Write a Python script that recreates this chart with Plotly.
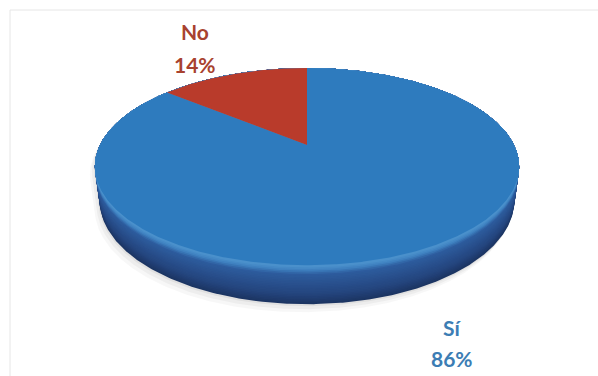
import numpy as np
import plotly.graph_objects as go

# ---- data ----
categories = ["Sí", "No"]
values = [86, 14]
slice_colors = ["#2E7BBE", "#B93B2B"]
label_colors = ["#3C7DB4", "#A8422F"]

# ---- 3D pie projection (style) ----
W, H_PX = 598, 376
CX, APEX_Y = 307, 145
KX, KY = 207, 202
ALPHA = np.radians(27.7)
SA, CA = np.sin(ALPHA), np.cos(ALPHA)
DIST = 4.05
THICK = 0.19


def proj(phi_deg, z):
    p = np.radians(np.asarray(phi_deg, dtype=float))
    X = np.sin(p)
    Y = np.cos(p)
    yup = Y * SA + z * CA
    d = Y * CA - z * SA
    s = DIST / (DIST + d)
    return CX + KX * X * s, APEX_Y - KY * yup * s


def hull(xs, ys):
    pts = sorted(set(zip(np.round(xs, 3), np.round(ys, 3))))

    def cross(o, a, b):
        return (a[0] - o[0]) * (b[1] - o[1]) - (a[1] - o[1]) * (b[0] - o[0])

    lower, upper = [], []
    for p in pts:
        while len(lower) >= 2 and cross(lower[-2], lower[-1], p) <= 0:
            lower.pop()
        lower.append(p)
    for p in reversed(pts):
        while len(upper) >= 2 and cross(upper[-2], upper[-1], p) <= 0:
            upper.pop()
        upper.append(p)
    h = lower[:-1] + upper[:-1]
    h.append(h[0])
    return [p[0] for p in h], [p[1] for p in h]


def lerp_color(stops, t):
    ts = [s[0] for s in stops]
    for i in range(len(stops) - 1):
        t0, c0 = stops[i]
        t1, c1 = stops[i + 1]
        if t0 >= t >= t1:
            f = (t0 - t) / (t0 - t1) if t0 != t1 else 0
            a = [int(c0[k:k + 2], 16) for k in (1, 3, 5)]
            b = [int(c1[k:k + 2], 16) for k in (1, 3, 5)]
            c = [round(a[j] + (b[j] - a[j]) * f) for j in range(3)]
            return "rgb(%d,%d,%d)" % tuple(c)
    return stops[-1][1]


phis = np.linspace(0, 360, 721)
fig = go.Figure()


def poly(xs, ys, color):
    fig.add_trace(go.Scatter(x=list(xs), y=list(ys), mode="lines", fill="toself",
                             fillcolor=color, line=dict(width=0, color=color),
                             hoverinfo="skip", showlegend=False))


# soft shadow
tx, ty = proj(phis, 0)
bx, by = proj(phis, -THICK)
for dx, dy, a in [(-5, 8, 0.03), (-3, 5, 0.04), (-1, 2, 0.05)]:
    hx, hy = hull(np.r_[tx, bx] + dx, np.r_[ty, by] + dy)
    poly(hx, hy, f"rgba(0,0,0,{a})")

# side wall with smooth gradient
stops = [(1.0, "#1C3563"), (0.75, "#24457E"), (0.45, "#2A5391"),
         (0.25, "#2D5C9E"), (0.15, "#3E80BF"), (0.06, "#4A90CB")]
for t in np.linspace(1.0, 0.06, 24):
    bx, by = proj(phis, -THICK * t)
    hx, hy = hull(np.r_[tx, bx], np.r_[ty, by])
    poly(hx, hy, lerp_color(stops, t))

# top face slices (clockwise from 12 o'clock)
total = sum(values)
start = 0.0
ax, ay = float(CX), float(APEX_Y)
for cat, val, col in zip(categories, values, slice_colors):
    end = start + 360.0 * val / total
    arc = np.linspace(start, end, max(int(end - start) * 2, 4))
    xs, ys = proj(arc, 0)
    poly(np.r_[ax, xs, ax], np.r_[ay, ys, ay], col)
    start = end

# labels
label_pos = {"No": (195, 31, 64), "Sí": (452, 327, 358)}
for cat, val, lc in zip(categories, values, label_colors):
    x, y1, y2 = label_pos[cat]
    fig.add_annotation(x=x, y=y1, text=f"<b>{cat}</b>", showarrow=False,
                       font=dict(family="Lato", size=21, color=lc))
    fig.add_annotation(x=x, y=y2, text=f"<b>{val}%</b>", showarrow=False,
                       font=dict(family="Lato", size=21, color=lc))

# chart frame
fig.add_shape(type="line", x0=10, y0=10, x1=598, y1=10,
              line=dict(color="#E6E6E6", width=1))
fig.add_shape(type="line", x0=10, y0=10, x1=10, y1=376,
              line=dict(color="#E6E6E6", width=1))

fig.update_layout(
    width=W, height=H_PX, margin=dict(l=0, r=0, t=0, b=0),
    paper_bgcolor="white", plot_bgcolor="white",
    xaxis=dict(range=[0, W], visible=False, fixedrange=True),
    yaxis=dict(range=[H_PX, 0], visible=False, fixedrange=True),
    showlegend=False,
)
fig.write_html("out.html", config={"displayModeBar": False})
